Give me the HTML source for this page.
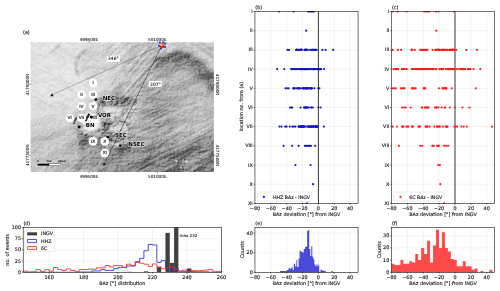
<!DOCTYPE html>
<html><head><meta charset="utf-8"><title>BAz figure</title>
<style>
html,body{margin:0;padding:0;background:#fff;}
body{width:500px;height:291px;overflow:hidden;}
svg{display:block;}
text{font-family:"DejaVu Sans","Liberation Sans",sans-serif;font-size:4.86px;fill:#1a1a1a;stroke:#1a1a1a;stroke-width:0.14px;text-rendering:geometricPrecision;}
.b{font-weight:bold;font-size:5.5px;fill:#000;paint-order:stroke;stroke:#fff;stroke-width:0.9px;stroke-opacity:.75;stroke-linejoin:round;}
.r{font-size:4.3px;fill:#3c3c3c;stroke:#3c3c3c;stroke-width:0.24px;}
.m{font-size:4.17px;stroke-width:0.1px;}
.g{stroke:#dcdcdc;stroke-width:0.35;}
.sp{fill:none;stroke:#000;stroke-width:0.56;}
.tk{stroke:#000;stroke-width:0.5;}
</style></head><body>
<svg width="500" height="291" viewBox="0 0 500 291">
<rect width="500" height="291" fill="#fff"/>

<defs>
<clipPath id="mc"><rect x="30.6" y="42.2" width="183.3" height="129.7"/></clipPath>
<filter id="b8" x="-30%" y="-30%" width="160%" height="160%"><feGaussianBlur stdDeviation="8"/></filter>
<filter id="b5" x="-30%" y="-30%" width="160%" height="160%"><feGaussianBlur stdDeviation="5"/></filter>
<filter id="b3" x="-30%" y="-30%" width="160%" height="160%"><feGaussianBlur stdDeviation="3"/></filter>
<filter id="b2" x="-30%" y="-30%" width="160%" height="160%"><feGaussianBlur stdDeviation="1.8"/></filter>
<filter id="b1" x="-30%" y="-30%" width="160%" height="160%"><feGaussianBlur stdDeviation="0.8"/></filter>
<filter id="b05" x="-30%" y="-30%" width="160%" height="160%"><feGaussianBlur stdDeviation="0.45"/></filter>
<filter id="tex" x="0" y="0" width="100%" height="100%" color-interpolation-filters="sRGB">
 <feTurbulence type="fractalNoise" baseFrequency="0.55 0.7" numOctaves="3" seed="7" result="n"/>
 <feDiffuseLighting in="n" surfaceScale="2.2" diffuseConstant="0.72" lighting-color="#fff" result="l"><feDistantLight azimuth="225" elevation="45"/></feDiffuseLighting>
</filter>
<filter id="streak" x="0" y="0" width="100%" height="100%" color-interpolation-filters="sRGB">
 <feTurbulence type="fractalNoise" baseFrequency="0.025 0.45" numOctaves="3" seed="11"/>
 <feColorMatrix type="matrix" values="1.9 0 0 0 -0.45  1.9 0 0 0 -0.45  1.9 0 0 0 -0.45  0 0 0 0 1"/>
</filter>
<mask id="mN"><g filter="url(#b5)"><polygon points="104,36 172,36 160,66 146,96 112,98 100,80 108,60" fill="#fff"/></g></mask>
<mask id="mE"><g filter="url(#b5)"><polygon points="128,104 170,96 222,110 222,178 140,178 132,150" fill="#fff"/></g></mask>
<mask id="mS"><g filter="url(#b5)"><polygon points="24,120 66,124 82,150 104,178 24,178" fill="#fff"/></g></mask>
<mask id="mW"><g filter="url(#b5)"><polygon points="24,36 96,36 100,70 86,96 64,112 24,112" fill="#fff"/></g></mask>
<filter id="tex3" x="0" y="0" width="100%" height="100%" color-interpolation-filters="sRGB">
 <feTurbulence type="turbulence" baseFrequency="0.16 0.28" numOctaves="3" seed="21" result="n"/>
 <feDiffuseLighting in="n" surfaceScale="7" diffuseConstant="0.72" lighting-color="#fff" result="l"><feDistantLight azimuth="225" elevation="45"/></feDiffuseLighting>
</filter>
<mask id="mC"><g filter="url(#b3)"><polygon points="84,108 96,98 136,96 140,112 132,132 136,146 124,152 104,146 80,138 74,124" fill="#fff"/></g></mask>
<filter id="tex2" x="0" y="0" width="100%" height="100%" color-interpolation-filters="sRGB">
 <feTurbulence type="fractalNoise" baseFrequency="0.05 0.09" numOctaves="3" seed="3" result="n"/>
 <feDiffuseLighting in="n" surfaceScale="22" diffuseConstant="0.72" lighting-color="#fff" result="l"><feDistantLight azimuth="225" elevation="45"/></feDiffuseLighting>
</filter>
</defs>
<g clip-path="url(#mc)">
<rect x="30" y="42" width="185" height="131" fill="#b6b6b6"/>
<!-- broad tonal regions -->
<g filter="url(#b8)">
 <polygon points="112,30 168,30 160,60 140,95 108,95" fill="#c6c6c6"/>
 <polygon points="20,30 122,30 122,58 108,92 78,118 56,134 20,150" fill="#e6e6e6"/>
 <polygon points="20,140 70,128 100,150 110,185 20,185" fill="#c2c2c2"/>
 <polygon points="85,140 150,146 160,185 90,185" fill="#9c9c9c"/>
 <polygon points="150,100 225,95 225,185 160,185" fill="#b3b3b3"/>
</g>
<g filter="url(#b5)">
 <polygon points="30,100 70,100 70,128 30,138" fill="#dedede"/>
 <polygon points="26,128 60,124 66,150 40,176 26,176" fill="#cacaca"/>
 <polygon points="186,30 225,30 225,74 200,56 188,48" fill="#c9c9c9"/>
 <polygon points="168,62 186,58 206,78 225,100 225,125 160,110" fill="#bababa"/>
 <polygon points="120,100 140,100 138,128 118,126" fill="#cfcfcf"/>
 <polygon points="140,150 222,138 222,182 140,182" fill="#868686"/>
 <polygon points="184,96 222,92 222,134 176,132" fill="#c2c2c2"/>
 <polygon points="146,92 166,90 170,132 148,134" fill="#a6a6a6"/>
</g>
<!-- dark ridge shadow band -->
<g filter="url(#b3)">
 <path d="M154,68 Q166,60 178,59.5 Q190,60 199,70 Q207,79 220,90" fill="none" stroke="#8d8d8d" stroke-width="13"/>
</g>
<g filter="url(#b2)">
 <path d="M156,63.5 Q168,56 180,55.5 Q191,57 200,66.5 Q207,74 220,84" fill="none" stroke="#7c7c7c" stroke-width="7"/>
 <path d="M200,68 Q208,78 220,92" fill="none" stroke="#808080" stroke-width="7"/>
</g>
<g filter="url(#b2)"><path d="M158,38 L222,38 L222,76 Q206,62 196,54 Q188,48.5 181,48.5 Q171,49 160,56Z" fill="#d2d2d2"/></g>
<g filter="url(#b1)" fill="none" stroke="#a6a6a6" stroke-width="1.4">
 <path d="M190,42 Q202,48 214,58"/>
 <path d="M199,42 Q207,46 214,51"/>
 <path d="M186,46 Q198,54 212,68" stroke="#b4b4b4"/>
</g>
<g filter="url(#b2)">
 <path d="M78,131 Q87,144 81,162 Q78,170 73,176" fill="none" stroke="#9c9c9c" stroke-width="5"/>
</g>
<!-- crater zone -->
<g filter="url(#b2)">
 <ellipse cx="91" cy="122" rx="9.5" ry="10" fill="#f6f6f6"/>
 <path d="M108,98.5 Q122,96.5 136,99.5 Q134,106.5 110,106Z" fill="#8a8a8a"/>
 <path d="M104,110 Q116,118 128,133" fill="none" stroke="#dadada" stroke-width="6"/>
 <path d="M100,107 Q112,105 126,108 Q124,114 102,114Z" fill="#d0d0d0"/>
 <path d="M114,112 Q124,110 133,116 Q130,126 116,125Z" fill="#c8c8c8"/>
 <path d="M78,132 Q84,131 90,134 Q90,148 80,148Z" fill="#8c8c8c"/>
 <path d="M110,147 Q122,146 133,149 Q132,157 112,156Z" fill="#8a8a8a"/>
</g>
<g filter="url(#b1)">
 <path d="M99.5,100 Q103,99.3 106,100.8 Q106,104 102.5,104.8 Q99.5,104 99.5,100Z" fill="#6a6a6a"/>
 <path d="M104,109 Q112,106 122,110 Q114,113 105,112Z" fill="#ededed"/>
 <path d="M102,123 Q107,122 112,124.5 Q112,129.5 106,130.5 Q102,129 102,123Z" fill="#757575"/>
 
 <path d="M80,130.5 Q87,134.5 95,134.5 Q100,134 103,131.5 Q97,133 92,132.5 Q85,131.5 81,129Z" fill="#e8e8e8"/>
 <path d="M106,138.5 Q112,138 118.5,141 Q113,143.5 107,142Z" fill="#6c6c6c"/>
 <path d="M110,142.5 Q117,142.8 123.5,144.5 Q117,145.6 110.5,144.6Z" fill="#f3f3f3"/>
 <path d="M108,127 Q118,126 127,131 Q120,133.5 110,131.5Z" fill="#e2e2e2"/>
 <path d="M116,114 Q124,116 131,121" fill="none" stroke="#f0f0f0" stroke-width="1.2"/>
 <path d="M114,118 Q122,120 129,125" fill="none" stroke="#7a7a7a" stroke-width="1.1"/>
 <path d="M122,96 Q130,99 138,104" fill="none" stroke="#8a8a8a" stroke-width="1.3"/>
</g>
<g filter="url(#b05)">
 <path d="M88.4,113.6 Q86.2,117 84.6,121.4 L86.8,121.2 Q88,117.5 90.2,114.4Z" fill="#4c4c4c"/>
 <path d="M76.2,116.8 Q74.2,120 72.6,124.2 L74.8,124 Q76,120.6 78,117.6Z" fill="#555"/>
</g>
<g filter="url(#b05)">
 <circle cx="176.5" cy="161" r="1.3" fill="#d4d4d4"/><circle cx="178.3" cy="162.6" r="1.0" fill="#555"/>
 <circle cx="186.5" cy="161.5" r="1.3" fill="#d8d8d8"/><circle cx="185" cy="159.6" r="1.1" fill="#4a4a4a"/>
 <circle cx="181" cy="167.5" r="1.1" fill="#ccc"/><circle cx="183" cy="169" r="1.0" fill="#505050"/>
 <circle cx="173.5" cy="158" r="0.9" fill="#5a5a5a"/>
</g>
<!-- gullies upper-left -->
<g filter="url(#b3)"><polygon points="88,40 120,40 116,74 98,84 82,76 78,62" fill="#d8d8d8"/></g>
<g filter="url(#b1)" fill="none" stroke="#a6a6a6" stroke-width="1.5">
 <path d="M60,44 Q56,49 51,53"/>
 <path d="M86,50 Q78,56 76,63 Q75,70 79,76"/>
 <path d="M66,86 Q72,92 78,95" stroke="#cfcfcf"/>
</g>
<g mask="url(#mN)" style="mix-blend-mode:overlay" opacity="0.4"><rect x="-200" y="-250" width="700" height="700" transform="rotate(-48 130 70)" filter="url(#streak)"/></g>
<g mask="url(#mE)" style="mix-blend-mode:overlay" opacity="0.28"><rect x="-200" y="-250" width="700" height="700" transform="rotate(-27 170 130)" filter="url(#streak)"/></g>
<g mask="url(#mS)" style="mix-blend-mode:overlay" opacity="0.16"><rect x="-200" y="-250" width="700" height="700" transform="rotate(-40 60 150)" filter="url(#streak)"/></g>
<g mask="url(#mW)" style="mix-blend-mode:overlay" opacity="0.22"><rect x="-200" y="-250" width="700" height="700" transform="rotate(30 60 80)" filter="url(#streak)"/></g>
<g mask="url(#mC)" style="mix-blend-mode:overlay" opacity="0.5"><rect x="60" y="85" width="95" height="80" filter="url(#tex3)"/></g>
<rect x="30" y="42" width="185" height="131" filter="url(#tex2)" style="mix-blend-mode:overlay" opacity="0.26"/>
<rect x="30" y="42" width="185" height="131" filter="url(#tex)" style="mix-blend-mode:overlay" opacity="0.38"/>
</g>

<line x1="161.8" y1="45.4" x2="53" y2="94.4" stroke="#333" stroke-width="0.32"/>
<line x1="161.8" y1="45.4" x2="104.8" y2="163" stroke="#111" stroke-width="0.8" stroke-dasharray="0.9 0.55"/>
<polygon points="52.2,93.2 50,96.3 53.7,96.3" fill="#111"/>
<polygon points="103.4,162.6 103.4,166 106.3,164.3" fill="#111"/>
<rect x="106.8" y="55.8" width="13" height="6" fill="#fff"/>
<text class="m" x="113.4" y="60.4" text-anchor="middle" style="font-size:4.5px">246°</text>
<rect x="148.8" y="80.9" width="13" height="6" fill="#fff"/>
<text class="m" x="155.5" y="85.5" text-anchor="middle" style="font-size:4.5px">207°</text>
<rect x="158.95" y="41.65" width="1.9" height="1.9" fill="#1f3fc8"/>
<rect x="164.25" y="42.75" width="1.9" height="1.9" fill="#1f3fc8"/>
<rect x="158.05" y="44.75" width="1.9" height="1.9" fill="#1f3fc8"/>
<rect x="164.05" y="45.95" width="1.9" height="1.9" fill="#1f3fc8"/>
<rect x="160.15" y="47.45" width="1.9" height="1.9" fill="#1f3fc8"/>
<rect x="162.45" y="41.45" width="1.9" height="1.9" fill="#1f3fc8"/>
<polygon points="162.3,41.6 159.5,47.7 165.0,47.7" fill="#f01418"/>
<circle cx="161.7" cy="45.0" r="1.15" fill="#ecd818"/>
<circle cx="93.1" cy="82.9" r="4.3" fill="#fff"/>
<text class="r" x="93.1" y="84.2" text-anchor="middle">I</text>
<circle cx="81.4" cy="94.6" r="4.3" fill="#fff"/>
<text class="r" x="81.4" y="95.9" text-anchor="middle">II</text>
<circle cx="93.1" cy="94.6" r="4.3" fill="#fff"/>
<text class="r" x="93.1" y="95.9" text-anchor="middle">III</text>
<circle cx="81.4" cy="106.3" r="4.3" fill="#fff"/>
<text class="r" x="81.4" y="107.6" text-anchor="middle">IV</text>
<circle cx="93.1" cy="106.3" r="4.3" fill="#fff"/>
<text class="r" x="93.1" y="107.6" text-anchor="middle">V</text>
<circle cx="69.7" cy="118.0" r="4.3" fill="#fff"/>
<text class="r" x="69.7" y="119.2" text-anchor="middle">VI</text>
<circle cx="81.4" cy="118.0" r="4.3" fill="#fff"/>
<text class="r" x="81.4" y="119.2" text-anchor="middle">VII</text>
<circle cx="93.7" cy="118.0" r="4.3" fill="#fff"/>
<text class="r" x="93.7" y="119.2" text-anchor="middle">VIII</text>
<circle cx="93.1" cy="141.4" r="4.3" fill="#fff"/>
<text class="r" x="93.1" y="142.7" text-anchor="middle">IX</text>
<circle cx="104.8" cy="141.4" r="4.3" fill="#fff"/>
<text class="r" x="104.8" y="142.7" text-anchor="middle">X</text>
<circle cx="104.8" cy="153.1" r="4.3" fill="#fff"/>
<text class="r" x="104.8" y="154.3" text-anchor="middle">XI</text>
<line x1="95.8" y1="99.7" x2="103.7" y2="97.9" stroke="#222" stroke-width="0.35"/>
<circle cx="95.8" cy="99.7" r="1.35" fill="#000"/>
<text class="b" x="102.7" y="99.9">NEC</text>
<line x1="91.2" y1="117.0" x2="98.9" y2="114.5" stroke="#222" stroke-width="0.35"/>
<circle cx="91.2" cy="117.0" r="1.35" fill="#000"/>
<text class="b" x="97.9" y="116.5">VOR</text>
<line x1="79.2" y1="127.1" x2="86.8" y2="124.7" stroke="#222" stroke-width="0.35"/>
<circle cx="79.2" cy="127.1" r="1.35" fill="#000"/>
<text class="b" x="85.8" y="126.7">BN</text>
<line x1="107.8" y1="137" x2="116" y2="135" stroke="#222" stroke-width="0.35"/>
<circle cx="107.8" cy="137" r="1.35" fill="#000"/>
<text class="b" x="115" y="137">SEC</text>
<line x1="120.3" y1="145.6" x2="129.3" y2="143.7" stroke="#222" stroke-width="0.35"/>
<circle cx="120.3" cy="145.6" r="1.35" fill="#000"/>
<text class="b" x="128.3" y="145.7">NSEC</text>
<rect x="37.6" y="163.7" width="11.4" height="1.9" fill="#000"/>
<rect x="49" y="163.7" width="11.4" height="1.9" fill="#fff" stroke="#000" stroke-width="0.3"/>
<text x="37.8" y="161.8" text-anchor="middle" style="font-size:2.4px">0</text>
<text x="49" y="161.8" text-anchor="middle" style="font-size:2.4px">250</text>
<text x="62" y="161.8" text-anchor="middle" style="font-size:2.4px">500 m</text>
<text x="23" y="33.7">(a)</text>
<text class="m" x="88.9" y="41.0" text-anchor="middle">499500E</text>
<text class="m" x="88.9" y="177.8" text-anchor="middle">499500E</text>
<line class="tk" x1="89.2" y1="42.2" x2="89.2" y2="41" />
<line class="tk" x1="89.2" y1="171.9" x2="89.2" y2="173.1" />
<text class="m" x="157.29999999999998" y="41.0" text-anchor="middle">501000E</text>
<text class="m" x="157.29999999999998" y="177.8" text-anchor="middle">501000E</text>
<line class="tk" x1="157.6" y1="42.2" x2="157.6" y2="41" />
<line class="tk" x1="157.6" y1="171.9" x2="157.6" y2="173.1" />
<text class="m" transform="translate(28.5,84.6) rotate(-90)" text-anchor="middle">4179000N</text>
<text class="m" transform="translate(216.2,84.6) rotate(90)" text-anchor="middle">4179000N</text>
<line class="tk" x1="30.6" y1="84.6" x2="29.4" y2="84.6" />
<line class="tk" x1="213.9" y1="84.6" x2="215.1" y2="84.6" />
<text class="m" transform="translate(28.5,155.3) rotate(-90)" text-anchor="middle">4177500N</text>
<text class="m" transform="translate(216.2,155.3) rotate(90)" text-anchor="middle">4177500N</text>
<line class="tk" x1="30.6" y1="155.3" x2="29.4" y2="155.3" />
<line class="tk" x1="213.9" y1="155.3" x2="215.1" y2="155.3" />
<rect x="254.95" y="11.5" width="103.1" height="191.9" fill="#fff"/>
<line class="g" x1="270.8" y1="11.5" x2="270.8" y2="203.4"/>
<line class="g" x1="286.7" y1="11.5" x2="286.7" y2="203.4"/>
<line class="g" x1="302.5" y1="11.5" x2="302.5" y2="203.4"/>
<line class="g" x1="334.3" y1="11.5" x2="334.3" y2="203.4"/>
<line class="g" x1="350.1" y1="11.5" x2="350.1" y2="203.4"/>
<line class="g" x1="254.95" y1="30.7" x2="358.05" y2="30.7"/>
<line class="g" x1="254.95" y1="49.9" x2="358.05" y2="49.9"/>
<line class="g" x1="254.95" y1="69.1" x2="358.05" y2="69.1"/>
<line class="g" x1="254.95" y1="88.3" x2="358.05" y2="88.3"/>
<line class="g" x1="254.95" y1="107.5" x2="358.05" y2="107.5"/>
<line class="g" x1="254.95" y1="126.6" x2="358.05" y2="126.6"/>
<line class="g" x1="254.95" y1="145.8" x2="358.05" y2="145.8"/>
<line class="g" x1="254.95" y1="165.0" x2="358.05" y2="165.0"/>
<line class="g" x1="254.95" y1="184.2" x2="358.05" y2="184.2"/>
<line x1="318.4" y1="11.5" x2="318.4" y2="203.4" stroke="#2a2a2a" stroke-width="0.95"/>
<clipPath id="cpb"><rect x="253.95" y="11.3" width="105.1" height="192.3"/></clipPath>
<g clip-path="url(#cpb)" fill="#1414c8">
<circle cx="279.1" cy="11.5" r="1.08"/>
<circle cx="293.8" cy="11.5" r="1.08"/>
<circle cx="308.1" cy="11.5" r="1.08"/>
<circle cx="309.3" cy="11.5" r="1.08"/>
<circle cx="310.5" cy="11.5" r="1.08"/>
<circle cx="311.7" cy="11.5" r="1.08"/>
<circle cx="312.8" cy="11.5" r="1.08"/>
<circle cx="314.0" cy="11.5" r="1.08"/>
<circle cx="306.2" cy="30.7" r="1.08"/>
<circle cx="287.5" cy="49.9" r="1.08"/>
<circle cx="289.1" cy="49.9" r="1.08"/>
<circle cx="296.2" cy="49.9" r="1.08"/>
<circle cx="296.7" cy="49.9" r="1.08"/>
<circle cx="296.8" cy="49.9" r="1.08"/>
<circle cx="296.8" cy="49.9" r="1.08"/>
<circle cx="296.8" cy="49.9" r="1.08"/>
<circle cx="298.2" cy="49.9" r="1.08"/>
<circle cx="299.1" cy="49.9" r="1.08"/>
<circle cx="300.8" cy="49.9" r="1.08"/>
<circle cx="300.9" cy="49.9" r="1.08"/>
<circle cx="300.9" cy="49.9" r="1.08"/>
<circle cx="301.1" cy="49.9" r="1.08"/>
<circle cx="301.1" cy="49.9" r="1.08"/>
<circle cx="301.2" cy="49.9" r="1.08"/>
<circle cx="301.7" cy="49.9" r="1.08"/>
<circle cx="304.4" cy="49.9" r="1.08"/>
<circle cx="305.2" cy="49.9" r="1.08"/>
<circle cx="305.5" cy="49.9" r="1.08"/>
<circle cx="305.6" cy="49.9" r="1.08"/>
<circle cx="305.7" cy="49.9" r="1.08"/>
<circle cx="305.8" cy="49.9" r="1.08"/>
<circle cx="306.0" cy="49.9" r="1.08"/>
<circle cx="306.8" cy="49.9" r="1.08"/>
<circle cx="306.8" cy="49.9" r="1.08"/>
<circle cx="307.8" cy="49.9" r="1.08"/>
<circle cx="310.1" cy="49.9" r="1.08"/>
<circle cx="311.6" cy="49.9" r="1.08"/>
<circle cx="312.5" cy="49.9" r="1.08"/>
<circle cx="312.5" cy="49.9" r="1.08"/>
<circle cx="313.1" cy="49.9" r="1.08"/>
<circle cx="314.1" cy="49.9" r="1.08"/>
<circle cx="314.3" cy="49.9" r="1.08"/>
<circle cx="315.5" cy="49.9" r="1.08"/>
<circle cx="316.3" cy="49.9" r="1.08"/>
<circle cx="316.4" cy="49.9" r="1.08"/>
<circle cx="322.4" cy="49.9" r="1.08"/>
<circle cx="325.5" cy="49.9" r="1.08"/>
<circle cx="333.2" cy="49.9" r="1.08"/>
<circle cx="277.2" cy="69.1" r="1.08"/>
<circle cx="284.3" cy="69.1" r="1.08"/>
<circle cx="291.4" cy="69.1" r="1.08"/>
<circle cx="291.5" cy="69.1" r="1.08"/>
<circle cx="291.7" cy="69.1" r="1.08"/>
<circle cx="292.4" cy="69.1" r="1.08"/>
<circle cx="293.2" cy="69.1" r="1.08"/>
<circle cx="294.8" cy="69.1" r="1.08"/>
<circle cx="295.5" cy="69.1" r="1.08"/>
<circle cx="295.6" cy="69.1" r="1.08"/>
<circle cx="296.2" cy="69.1" r="1.08"/>
<circle cx="297.9" cy="69.1" r="1.08"/>
<circle cx="298.8" cy="69.1" r="1.08"/>
<circle cx="300.1" cy="69.1" r="1.08"/>
<circle cx="300.4" cy="69.1" r="1.08"/>
<circle cx="300.6" cy="69.1" r="1.08"/>
<circle cx="301.4" cy="69.1" r="1.08"/>
<circle cx="301.4" cy="69.1" r="1.08"/>
<circle cx="302.2" cy="69.1" r="1.08"/>
<circle cx="302.7" cy="69.1" r="1.08"/>
<circle cx="303.8" cy="69.1" r="1.08"/>
<circle cx="304.2" cy="69.1" r="1.08"/>
<circle cx="304.7" cy="69.1" r="1.08"/>
<circle cx="304.8" cy="69.1" r="1.08"/>
<circle cx="305.6" cy="69.1" r="1.08"/>
<circle cx="305.9" cy="69.1" r="1.08"/>
<circle cx="306.2" cy="69.1" r="1.08"/>
<circle cx="306.7" cy="69.1" r="1.08"/>
<circle cx="306.8" cy="69.1" r="1.08"/>
<circle cx="307.3" cy="69.1" r="1.08"/>
<circle cx="307.8" cy="69.1" r="1.08"/>
<circle cx="308.4" cy="69.1" r="1.08"/>
<circle cx="309.1" cy="69.1" r="1.08"/>
<circle cx="309.2" cy="69.1" r="1.08"/>
<circle cx="311.1" cy="69.1" r="1.08"/>
<circle cx="311.2" cy="69.1" r="1.08"/>
<circle cx="312.5" cy="69.1" r="1.08"/>
<circle cx="312.7" cy="69.1" r="1.08"/>
<circle cx="313.1" cy="69.1" r="1.08"/>
<circle cx="313.1" cy="69.1" r="1.08"/>
<circle cx="313.7" cy="69.1" r="1.08"/>
<circle cx="313.9" cy="69.1" r="1.08"/>
<circle cx="314.8" cy="69.1" r="1.08"/>
<circle cx="315.0" cy="69.1" r="1.08"/>
<circle cx="316.0" cy="69.1" r="1.08"/>
<circle cx="316.2" cy="69.1" r="1.08"/>
<circle cx="317.6" cy="69.1" r="1.08"/>
<circle cx="317.9" cy="69.1" r="1.08"/>
<circle cx="317.9" cy="69.1" r="1.08"/>
<circle cx="318.3" cy="69.1" r="1.08"/>
<circle cx="318.9" cy="69.1" r="1.08"/>
<circle cx="319.6" cy="69.1" r="1.08"/>
<circle cx="319.6" cy="69.1" r="1.08"/>
<circle cx="319.8" cy="69.1" r="1.08"/>
<circle cx="320.0" cy="69.1" r="1.08"/>
<circle cx="320.6" cy="69.1" r="1.08"/>
<circle cx="321.0" cy="69.1" r="1.08"/>
<circle cx="321.1" cy="69.1" r="1.08"/>
<circle cx="324.0" cy="69.1" r="1.08"/>
<circle cx="285.5" cy="88.3" r="1.08"/>
<circle cx="287.1" cy="88.3" r="1.08"/>
<circle cx="288.6" cy="88.3" r="1.08"/>
<circle cx="293.3" cy="88.3" r="1.08"/>
<circle cx="293.7" cy="88.3" r="1.08"/>
<circle cx="294.4" cy="88.3" r="1.08"/>
<circle cx="294.4" cy="88.3" r="1.08"/>
<circle cx="296.2" cy="88.3" r="1.08"/>
<circle cx="298.0" cy="88.3" r="1.08"/>
<circle cx="298.1" cy="88.3" r="1.08"/>
<circle cx="298.6" cy="88.3" r="1.08"/>
<circle cx="299.5" cy="88.3" r="1.08"/>
<circle cx="300.9" cy="88.3" r="1.08"/>
<circle cx="303.1" cy="88.3" r="1.08"/>
<circle cx="303.1" cy="88.3" r="1.08"/>
<circle cx="303.2" cy="88.3" r="1.08"/>
<circle cx="304.2" cy="88.3" r="1.08"/>
<circle cx="304.7" cy="88.3" r="1.08"/>
<circle cx="305.7" cy="88.3" r="1.08"/>
<circle cx="306.0" cy="88.3" r="1.08"/>
<circle cx="306.4" cy="88.3" r="1.08"/>
<circle cx="306.6" cy="88.3" r="1.08"/>
<circle cx="306.7" cy="88.3" r="1.08"/>
<circle cx="307.4" cy="88.3" r="1.08"/>
<circle cx="308.4" cy="88.3" r="1.08"/>
<circle cx="308.9" cy="88.3" r="1.08"/>
<circle cx="309.3" cy="88.3" r="1.08"/>
<circle cx="310.9" cy="88.3" r="1.08"/>
<circle cx="311.0" cy="88.3" r="1.08"/>
<circle cx="311.6" cy="88.3" r="1.08"/>
<circle cx="311.6" cy="88.3" r="1.08"/>
<circle cx="311.8" cy="88.3" r="1.08"/>
<circle cx="314.3" cy="88.3" r="1.08"/>
<circle cx="318.4" cy="88.3" r="1.08"/>
<circle cx="319.4" cy="88.3" r="1.08"/>
<circle cx="290.1" cy="107.5" r="1.08"/>
<circle cx="291.4" cy="107.5" r="1.08"/>
<circle cx="292.2" cy="107.5" r="1.08"/>
<circle cx="300.6" cy="107.5" r="1.08"/>
<circle cx="304.0" cy="107.5" r="1.08"/>
<circle cx="304.4" cy="107.5" r="1.08"/>
<circle cx="304.9" cy="107.5" r="1.08"/>
<circle cx="305.6" cy="107.5" r="1.08"/>
<circle cx="305.8" cy="107.5" r="1.08"/>
<circle cx="306.2" cy="107.5" r="1.08"/>
<circle cx="307.4" cy="107.5" r="1.08"/>
<circle cx="307.5" cy="107.5" r="1.08"/>
<circle cx="308.9" cy="107.5" r="1.08"/>
<circle cx="311.2" cy="107.5" r="1.08"/>
<circle cx="311.6" cy="107.5" r="1.08"/>
<circle cx="312.8" cy="107.5" r="1.08"/>
<circle cx="318.4" cy="107.5" r="1.08"/>
<circle cx="320.6" cy="107.5" r="1.08"/>
<circle cx="279.5" cy="126.6" r="1.08"/>
<circle cx="281.5" cy="126.6" r="1.08"/>
<circle cx="285.1" cy="126.6" r="1.08"/>
<circle cx="286.7" cy="126.6" r="1.08"/>
<circle cx="289.8" cy="126.6" r="1.08"/>
<circle cx="292.2" cy="126.6" r="1.08"/>
<circle cx="293.8" cy="126.6" r="1.08"/>
<circle cx="295.4" cy="126.6" r="1.08"/>
<circle cx="298.6" cy="126.6" r="1.08"/>
<circle cx="298.8" cy="126.6" r="1.08"/>
<circle cx="299.1" cy="126.6" r="1.08"/>
<circle cx="299.8" cy="126.6" r="1.08"/>
<circle cx="300.7" cy="126.6" r="1.08"/>
<circle cx="301.0" cy="126.6" r="1.08"/>
<circle cx="301.2" cy="126.6" r="1.08"/>
<circle cx="301.3" cy="126.6" r="1.08"/>
<circle cx="301.6" cy="126.6" r="1.08"/>
<circle cx="301.7" cy="126.6" r="1.08"/>
<circle cx="302.5" cy="126.6" r="1.08"/>
<circle cx="302.6" cy="126.6" r="1.08"/>
<circle cx="302.7" cy="126.6" r="1.08"/>
<circle cx="302.7" cy="126.6" r="1.08"/>
<circle cx="303.3" cy="126.6" r="1.08"/>
<circle cx="303.9" cy="126.6" r="1.08"/>
<circle cx="304.1" cy="126.6" r="1.08"/>
<circle cx="304.3" cy="126.6" r="1.08"/>
<circle cx="305.4" cy="126.6" r="1.08"/>
<circle cx="307.4" cy="126.6" r="1.08"/>
<circle cx="307.5" cy="126.6" r="1.08"/>
<circle cx="308.8" cy="126.6" r="1.08"/>
<circle cx="308.9" cy="126.6" r="1.08"/>
<circle cx="309.5" cy="126.6" r="1.08"/>
<circle cx="310.3" cy="126.6" r="1.08"/>
<circle cx="310.4" cy="126.6" r="1.08"/>
<circle cx="310.9" cy="126.6" r="1.08"/>
<circle cx="311.5" cy="126.6" r="1.08"/>
<circle cx="311.7" cy="126.6" r="1.08"/>
<circle cx="312.7" cy="126.6" r="1.08"/>
<circle cx="312.7" cy="126.6" r="1.08"/>
<circle cx="313.1" cy="126.6" r="1.08"/>
<circle cx="313.7" cy="126.6" r="1.08"/>
<circle cx="313.7" cy="126.6" r="1.08"/>
<circle cx="315.2" cy="126.6" r="1.08"/>
<circle cx="315.2" cy="126.6" r="1.08"/>
<circle cx="315.6" cy="126.6" r="1.08"/>
<circle cx="315.7" cy="126.6" r="1.08"/>
<circle cx="316.0" cy="126.6" r="1.08"/>
<circle cx="316.1" cy="126.6" r="1.08"/>
<circle cx="316.5" cy="126.6" r="1.08"/>
<circle cx="316.5" cy="126.6" r="1.08"/>
<circle cx="316.5" cy="126.6" r="1.08"/>
<circle cx="316.9" cy="126.6" r="1.08"/>
<circle cx="317.0" cy="126.6" r="1.08"/>
<circle cx="317.3" cy="126.6" r="1.08"/>
<circle cx="323.8" cy="126.6" r="1.08"/>
<circle cx="283.5" cy="145.8" r="1.08"/>
<circle cx="292.2" cy="145.8" r="1.08"/>
<circle cx="298.6" cy="145.8" r="1.08"/>
<circle cx="304.9" cy="145.8" r="1.08"/>
<circle cx="306.1" cy="145.8" r="1.08"/>
<circle cx="307.3" cy="145.8" r="1.08"/>
<circle cx="308.5" cy="145.8" r="1.08"/>
<circle cx="309.7" cy="145.8" r="1.08"/>
<circle cx="310.9" cy="145.8" r="1.08"/>
<circle cx="315.2" cy="145.8" r="1.08"/>
<circle cx="295.4" cy="165.0" r="1.08"/>
<circle cx="310.5" cy="165.0" r="1.08"/>
<circle cx="313.1" cy="184.2" r="1.08"/>
<circle cx="306.9" cy="203.4" r="1.08"/>
</g>
<rect class="sp" x="254.95" y="11.5" width="103.1" height="191.9"/>
<line class="tk" x1="255.0" y1="203.4" x2="255.0" y2="204.8"/>
<text x="255.0" y="210.3" text-anchor="middle">−80</text>
<line class="tk" x1="270.8" y1="203.4" x2="270.8" y2="204.8"/>
<text x="270.8" y="210.3" text-anchor="middle">−60</text>
<line class="tk" x1="286.7" y1="203.4" x2="286.7" y2="204.8"/>
<text x="286.7" y="210.3" text-anchor="middle">−40</text>
<line class="tk" x1="302.5" y1="203.4" x2="302.5" y2="204.8"/>
<text x="302.5" y="210.3" text-anchor="middle">−20</text>
<line class="tk" x1="318.4" y1="203.4" x2="318.4" y2="204.8"/>
<text x="318.4" y="210.3" text-anchor="middle">0</text>
<line class="tk" x1="334.3" y1="203.4" x2="334.3" y2="204.8"/>
<text x="334.3" y="210.3" text-anchor="middle">20</text>
<line class="tk" x1="350.1" y1="203.4" x2="350.1" y2="204.8"/>
<text x="350.1" y="210.3" text-anchor="middle">40</text>
<line class="tk" x1="254.95" y1="11.5" x2="253.54999999999998" y2="11.5"/>
<text x="252.8" y="13.0" text-anchor="end">I</text>
<line class="tk" x1="254.95" y1="30.7" x2="253.54999999999998" y2="30.7"/>
<text x="252.8" y="32.2" text-anchor="end">II</text>
<line class="tk" x1="254.95" y1="49.9" x2="253.54999999999998" y2="49.9"/>
<text x="252.8" y="51.4" text-anchor="end">III</text>
<line class="tk" x1="254.95" y1="69.1" x2="253.54999999999998" y2="69.1"/>
<text x="252.8" y="70.6" text-anchor="end">IV</text>
<line class="tk" x1="254.95" y1="88.3" x2="253.54999999999998" y2="88.3"/>
<text x="252.8" y="89.8" text-anchor="end">V</text>
<line class="tk" x1="254.95" y1="107.5" x2="253.54999999999998" y2="107.5"/>
<text x="252.8" y="109.0" text-anchor="end">VI</text>
<line class="tk" x1="254.95" y1="126.6" x2="253.54999999999998" y2="126.6"/>
<text x="252.8" y="128.1" text-anchor="end">VII</text>
<line class="tk" x1="254.95" y1="145.8" x2="253.54999999999998" y2="145.8"/>
<text x="252.8" y="147.3" text-anchor="end">VIII</text>
<line class="tk" x1="254.95" y1="165.0" x2="253.54999999999998" y2="165.0"/>
<text x="252.8" y="166.5" text-anchor="end">IX</text>
<line class="tk" x1="254.95" y1="184.2" x2="253.54999999999998" y2="184.2"/>
<text x="252.8" y="185.7" text-anchor="end">X</text>
<line class="tk" x1="254.95" y1="203.4" x2="253.54999999999998" y2="203.4"/>
<text x="252.8" y="204.9" text-anchor="end">XI</text>
<text x="306.5" y="216.2" text-anchor="middle">BAz deviation [°] from INGV</text>
<text x="255.35" y="9">(b)</text>
<rect x="257.6" y="192.1" width="54.3" height="9.0" rx="0.8" fill="#fff" fill-opacity="0.8" stroke="#ccc" stroke-width="0.4"/>
<circle cx="263.9" cy="196.9" r="1.1" fill="#1414c8"/>
<text x="273" y="198.5" style="font-size:4.7px">HHZ BAz - INGV</text>
<text transform="translate(242.9,106.6) rotate(-90)" text-anchor="middle">location no. from (a)</text>
<rect x="391.5" y="11.5" width="103.1" height="191.9" fill="#fff"/>
<line class="g" x1="407.4" y1="11.5" x2="407.4" y2="203.4"/>
<line class="g" x1="423.3" y1="11.5" x2="423.3" y2="203.4"/>
<line class="g" x1="439.1" y1="11.5" x2="439.1" y2="203.4"/>
<line class="g" x1="470.9" y1="11.5" x2="470.9" y2="203.4"/>
<line class="g" x1="486.7" y1="11.5" x2="486.7" y2="203.4"/>
<line class="g" x1="391.5" y1="30.7" x2="494.6" y2="30.7"/>
<line class="g" x1="391.5" y1="49.9" x2="494.6" y2="49.9"/>
<line class="g" x1="391.5" y1="69.1" x2="494.6" y2="69.1"/>
<line class="g" x1="391.5" y1="88.3" x2="494.6" y2="88.3"/>
<line class="g" x1="391.5" y1="107.5" x2="494.6" y2="107.5"/>
<line class="g" x1="391.5" y1="126.6" x2="494.6" y2="126.6"/>
<line class="g" x1="391.5" y1="145.8" x2="494.6" y2="145.8"/>
<line class="g" x1="391.5" y1="165.0" x2="494.6" y2="165.0"/>
<line class="g" x1="391.5" y1="184.2" x2="494.6" y2="184.2"/>
<line x1="455.0" y1="11.5" x2="455.0" y2="203.4" stroke="#2a2a2a" stroke-width="0.95"/>
<clipPath id="cpc"><rect x="390.5" y="11.3" width="105.1" height="192.3"/></clipPath>
<g clip-path="url(#cpc)" fill="#ff1a1a">
<circle cx="392.7" cy="11.5" r="1.08"/>
<circle cx="397.9" cy="11.5" r="1.08"/>
<circle cx="406.6" cy="11.5" r="1.08"/>
<circle cx="424.1" cy="11.5" r="1.08"/>
<circle cx="425.7" cy="11.5" r="1.08"/>
<circle cx="427.6" cy="11.5" r="1.08"/>
<circle cx="429.2" cy="11.5" r="1.08"/>
<circle cx="436.0" cy="11.5" r="1.08"/>
<circle cx="438.6" cy="11.5" r="1.08"/>
<circle cx="453.6" cy="11.5" r="1.08"/>
<circle cx="436.3" cy="30.7" r="1.08"/>
<circle cx="392.7" cy="49.9" r="1.08"/>
<circle cx="397.9" cy="49.9" r="1.08"/>
<circle cx="401.1" cy="49.9" r="1.08"/>
<circle cx="411.6" cy="49.9" r="1.08"/>
<circle cx="411.7" cy="49.9" r="1.08"/>
<circle cx="412.0" cy="49.9" r="1.08"/>
<circle cx="412.3" cy="49.9" r="1.08"/>
<circle cx="414.8" cy="49.9" r="1.08"/>
<circle cx="420.2" cy="49.9" r="1.08"/>
<circle cx="421.4" cy="49.9" r="1.08"/>
<circle cx="422.6" cy="49.9" r="1.08"/>
<circle cx="423.5" cy="49.9" r="1.08"/>
<circle cx="424.4" cy="49.9" r="1.08"/>
<circle cx="426.0" cy="49.9" r="1.08"/>
<circle cx="426.1" cy="49.9" r="1.08"/>
<circle cx="427.4" cy="49.9" r="1.08"/>
<circle cx="432.5" cy="49.9" r="1.08"/>
<circle cx="435.4" cy="49.9" r="1.08"/>
<circle cx="435.9" cy="49.9" r="1.08"/>
<circle cx="435.9" cy="49.9" r="1.08"/>
<circle cx="436.8" cy="49.9" r="1.08"/>
<circle cx="437.6" cy="49.9" r="1.08"/>
<circle cx="437.8" cy="49.9" r="1.08"/>
<circle cx="438.0" cy="49.9" r="1.08"/>
<circle cx="438.6" cy="49.9" r="1.08"/>
<circle cx="438.7" cy="49.9" r="1.08"/>
<circle cx="439.1" cy="49.9" r="1.08"/>
<circle cx="439.6" cy="49.9" r="1.08"/>
<circle cx="441.3" cy="49.9" r="1.08"/>
<circle cx="443.0" cy="49.9" r="1.08"/>
<circle cx="443.0" cy="49.9" r="1.08"/>
<circle cx="443.0" cy="49.9" r="1.08"/>
<circle cx="444.4" cy="49.9" r="1.08"/>
<circle cx="445.6" cy="49.9" r="1.08"/>
<circle cx="446.4" cy="49.9" r="1.08"/>
<circle cx="447.5" cy="49.9" r="1.08"/>
<circle cx="449.4" cy="49.9" r="1.08"/>
<circle cx="449.4" cy="49.9" r="1.08"/>
<circle cx="450.7" cy="49.9" r="1.08"/>
<circle cx="450.9" cy="49.9" r="1.08"/>
<circle cx="451.2" cy="49.9" r="1.08"/>
<circle cx="452.2" cy="49.9" r="1.08"/>
<circle cx="452.5" cy="49.9" r="1.08"/>
<circle cx="452.6" cy="49.9" r="1.08"/>
<circle cx="453.0" cy="49.9" r="1.08"/>
<circle cx="453.3" cy="49.9" r="1.08"/>
<circle cx="453.6" cy="49.9" r="1.08"/>
<circle cx="453.6" cy="49.9" r="1.08"/>
<circle cx="454.1" cy="49.9" r="1.08"/>
<circle cx="456.1" cy="49.9" r="1.08"/>
<circle cx="466.4" cy="49.9" r="1.08"/>
<circle cx="476.9" cy="49.9" r="1.08"/>
<circle cx="393.6" cy="69.1" r="1.08"/>
<circle cx="393.8" cy="69.1" r="1.08"/>
<circle cx="395.5" cy="69.1" r="1.08"/>
<circle cx="396.0" cy="69.1" r="1.08"/>
<circle cx="396.2" cy="69.1" r="1.08"/>
<circle cx="396.7" cy="69.1" r="1.08"/>
<circle cx="397.6" cy="69.1" r="1.08"/>
<circle cx="398.2" cy="69.1" r="1.08"/>
<circle cx="402.2" cy="69.1" r="1.08"/>
<circle cx="402.3" cy="69.1" r="1.08"/>
<circle cx="402.7" cy="69.1" r="1.08"/>
<circle cx="403.0" cy="69.1" r="1.08"/>
<circle cx="403.5" cy="69.1" r="1.08"/>
<circle cx="404.2" cy="69.1" r="1.08"/>
<circle cx="406.2" cy="69.1" r="1.08"/>
<circle cx="406.8" cy="69.1" r="1.08"/>
<circle cx="412.0" cy="69.1" r="1.08"/>
<circle cx="412.3" cy="69.1" r="1.08"/>
<circle cx="412.3" cy="69.1" r="1.08"/>
<circle cx="413.6" cy="69.1" r="1.08"/>
<circle cx="415.0" cy="69.1" r="1.08"/>
<circle cx="415.9" cy="69.1" r="1.08"/>
<circle cx="416.6" cy="69.1" r="1.08"/>
<circle cx="417.6" cy="69.1" r="1.08"/>
<circle cx="418.4" cy="69.1" r="1.08"/>
<circle cx="419.0" cy="69.1" r="1.08"/>
<circle cx="419.3" cy="69.1" r="1.08"/>
<circle cx="421.2" cy="69.1" r="1.08"/>
<circle cx="421.4" cy="69.1" r="1.08"/>
<circle cx="421.5" cy="69.1" r="1.08"/>
<circle cx="421.7" cy="69.1" r="1.08"/>
<circle cx="421.9" cy="69.1" r="1.08"/>
<circle cx="422.9" cy="69.1" r="1.08"/>
<circle cx="423.7" cy="69.1" r="1.08"/>
<circle cx="423.9" cy="69.1" r="1.08"/>
<circle cx="425.0" cy="69.1" r="1.08"/>
<circle cx="425.3" cy="69.1" r="1.08"/>
<circle cx="426.2" cy="69.1" r="1.08"/>
<circle cx="426.8" cy="69.1" r="1.08"/>
<circle cx="427.1" cy="69.1" r="1.08"/>
<circle cx="428.9" cy="69.1" r="1.08"/>
<circle cx="429.0" cy="69.1" r="1.08"/>
<circle cx="429.7" cy="69.1" r="1.08"/>
<circle cx="431.2" cy="69.1" r="1.08"/>
<circle cx="431.8" cy="69.1" r="1.08"/>
<circle cx="432.7" cy="69.1" r="1.08"/>
<circle cx="432.9" cy="69.1" r="1.08"/>
<circle cx="433.2" cy="69.1" r="1.08"/>
<circle cx="433.6" cy="69.1" r="1.08"/>
<circle cx="435.5" cy="69.1" r="1.08"/>
<circle cx="435.9" cy="69.1" r="1.08"/>
<circle cx="436.2" cy="69.1" r="1.08"/>
<circle cx="439.4" cy="69.1" r="1.08"/>
<circle cx="441.0" cy="69.1" r="1.08"/>
<circle cx="441.4" cy="69.1" r="1.08"/>
<circle cx="442.1" cy="69.1" r="1.08"/>
<circle cx="442.6" cy="69.1" r="1.08"/>
<circle cx="443.4" cy="69.1" r="1.08"/>
<circle cx="446.0" cy="69.1" r="1.08"/>
<circle cx="447.2" cy="69.1" r="1.08"/>
<circle cx="447.9" cy="69.1" r="1.08"/>
<circle cx="448.6" cy="69.1" r="1.08"/>
<circle cx="448.6" cy="69.1" r="1.08"/>
<circle cx="448.9" cy="69.1" r="1.08"/>
<circle cx="449.3" cy="69.1" r="1.08"/>
<circle cx="449.6" cy="69.1" r="1.08"/>
<circle cx="449.9" cy="69.1" r="1.08"/>
<circle cx="451.5" cy="69.1" r="1.08"/>
<circle cx="451.7" cy="69.1" r="1.08"/>
<circle cx="452.1" cy="69.1" r="1.08"/>
<circle cx="452.4" cy="69.1" r="1.08"/>
<circle cx="452.5" cy="69.1" r="1.08"/>
<circle cx="453.3" cy="69.1" r="1.08"/>
<circle cx="454.2" cy="69.1" r="1.08"/>
<circle cx="454.6" cy="69.1" r="1.08"/>
<circle cx="454.8" cy="69.1" r="1.08"/>
<circle cx="456.8" cy="69.1" r="1.08"/>
<circle cx="459.1" cy="69.1" r="1.08"/>
<circle cx="461.1" cy="69.1" r="1.08"/>
<circle cx="461.2" cy="69.1" r="1.08"/>
<circle cx="461.9" cy="69.1" r="1.08"/>
<circle cx="462.1" cy="69.1" r="1.08"/>
<circle cx="462.5" cy="69.1" r="1.08"/>
<circle cx="463.0" cy="69.1" r="1.08"/>
<circle cx="463.8" cy="69.1" r="1.08"/>
<circle cx="464.0" cy="69.1" r="1.08"/>
<circle cx="464.5" cy="69.1" r="1.08"/>
<circle cx="465.1" cy="69.1" r="1.08"/>
<circle cx="467.8" cy="69.1" r="1.08"/>
<circle cx="468.2" cy="69.1" r="1.08"/>
<circle cx="469.7" cy="69.1" r="1.08"/>
<circle cx="470.5" cy="69.1" r="1.08"/>
<circle cx="473.5" cy="69.1" r="1.08"/>
<circle cx="480.3" cy="69.1" r="1.08"/>
<circle cx="392.7" cy="88.3" r="1.08"/>
<circle cx="394.3" cy="88.3" r="1.08"/>
<circle cx="395.8" cy="88.3" r="1.08"/>
<circle cx="401.0" cy="88.3" r="1.08"/>
<circle cx="402.2" cy="88.3" r="1.08"/>
<circle cx="403.7" cy="88.3" r="1.08"/>
<circle cx="404.5" cy="88.3" r="1.08"/>
<circle cx="412.1" cy="88.3" r="1.08"/>
<circle cx="412.2" cy="88.3" r="1.08"/>
<circle cx="413.3" cy="88.3" r="1.08"/>
<circle cx="414.4" cy="88.3" r="1.08"/>
<circle cx="415.7" cy="88.3" r="1.08"/>
<circle cx="423.8" cy="88.3" r="1.08"/>
<circle cx="423.8" cy="88.3" r="1.08"/>
<circle cx="424.7" cy="88.3" r="1.08"/>
<circle cx="425.3" cy="88.3" r="1.08"/>
<circle cx="438.9" cy="88.3" r="1.08"/>
<circle cx="442.4" cy="88.3" r="1.08"/>
<circle cx="443.1" cy="88.3" r="1.08"/>
<circle cx="443.7" cy="88.3" r="1.08"/>
<circle cx="444.6" cy="88.3" r="1.08"/>
<circle cx="445.8" cy="88.3" r="1.08"/>
<circle cx="446.2" cy="88.3" r="1.08"/>
<circle cx="446.2" cy="88.3" r="1.08"/>
<circle cx="446.2" cy="88.3" r="1.08"/>
<circle cx="451.7" cy="88.3" r="1.08"/>
<circle cx="475.8" cy="88.3" r="1.08"/>
<circle cx="402.1" cy="107.5" r="1.08"/>
<circle cx="404.2" cy="107.5" r="1.08"/>
<circle cx="405.8" cy="107.5" r="1.08"/>
<circle cx="410.7" cy="107.5" r="1.08"/>
<circle cx="421.8" cy="107.5" r="1.08"/>
<circle cx="422.3" cy="107.5" r="1.08"/>
<circle cx="425.0" cy="107.5" r="1.08"/>
<circle cx="425.3" cy="107.5" r="1.08"/>
<circle cx="426.6" cy="107.5" r="1.08"/>
<circle cx="427.2" cy="107.5" r="1.08"/>
<circle cx="428.2" cy="107.5" r="1.08"/>
<circle cx="428.4" cy="107.5" r="1.08"/>
<circle cx="435.0" cy="107.5" r="1.08"/>
<circle cx="436.0" cy="107.5" r="1.08"/>
<circle cx="436.3" cy="107.5" r="1.08"/>
<circle cx="436.7" cy="107.5" r="1.08"/>
<circle cx="438.4" cy="107.5" r="1.08"/>
<circle cx="441.6" cy="107.5" r="1.08"/>
<circle cx="444.9" cy="107.5" r="1.08"/>
<circle cx="445.3" cy="107.5" r="1.08"/>
<circle cx="449.8" cy="107.5" r="1.08"/>
<circle cx="455.0" cy="107.5" r="1.08"/>
<circle cx="462.4" cy="107.5" r="1.08"/>
<circle cx="469.4" cy="107.5" r="1.08"/>
<circle cx="392.7" cy="126.6" r="1.08"/>
<circle cx="396.9" cy="126.6" r="1.08"/>
<circle cx="402.1" cy="126.6" r="1.08"/>
<circle cx="402.7" cy="126.6" r="1.08"/>
<circle cx="403.4" cy="126.6" r="1.08"/>
<circle cx="406.2" cy="126.6" r="1.08"/>
<circle cx="407.5" cy="126.6" r="1.08"/>
<circle cx="408.3" cy="126.6" r="1.08"/>
<circle cx="412.0" cy="126.6" r="1.08"/>
<circle cx="412.4" cy="126.6" r="1.08"/>
<circle cx="412.7" cy="126.6" r="1.08"/>
<circle cx="418.5" cy="126.6" r="1.08"/>
<circle cx="419.2" cy="126.6" r="1.08"/>
<circle cx="419.6" cy="126.6" r="1.08"/>
<circle cx="419.7" cy="126.6" r="1.08"/>
<circle cx="425.6" cy="126.6" r="1.08"/>
<circle cx="426.1" cy="126.6" r="1.08"/>
<circle cx="426.6" cy="126.6" r="1.08"/>
<circle cx="427.7" cy="126.6" r="1.08"/>
<circle cx="429.6" cy="126.6" r="1.08"/>
<circle cx="434.4" cy="126.6" r="1.08"/>
<circle cx="436.9" cy="126.6" r="1.08"/>
<circle cx="437.5" cy="126.6" r="1.08"/>
<circle cx="438.2" cy="126.6" r="1.08"/>
<circle cx="439.2" cy="126.6" r="1.08"/>
<circle cx="439.9" cy="126.6" r="1.08"/>
<circle cx="443.0" cy="126.6" r="1.08"/>
<circle cx="445.9" cy="126.6" r="1.08"/>
<circle cx="446.3" cy="126.6" r="1.08"/>
<circle cx="447.1" cy="126.6" r="1.08"/>
<circle cx="447.5" cy="126.6" r="1.08"/>
<circle cx="454.3" cy="126.6" r="1.08"/>
<circle cx="455.7" cy="126.6" r="1.08"/>
<circle cx="457.1" cy="126.6" r="1.08"/>
<circle cx="461.3" cy="126.6" r="1.08"/>
<circle cx="463.7" cy="126.6" r="1.08"/>
<circle cx="466.7" cy="126.6" r="1.08"/>
<circle cx="492.0" cy="126.6" r="1.08"/>
<circle cx="398.9" cy="145.8" r="1.08"/>
<circle cx="420.3" cy="145.8" r="1.08"/>
<circle cx="422.3" cy="145.8" r="1.08"/>
<circle cx="432.3" cy="145.8" r="1.08"/>
<circle cx="433.6" cy="145.8" r="1.08"/>
<circle cx="433.6" cy="145.8" r="1.08"/>
<circle cx="437.1" cy="145.8" r="1.08"/>
<circle cx="438.5" cy="145.8" r="1.08"/>
<circle cx="438.6" cy="145.8" r="1.08"/>
<circle cx="438.7" cy="145.8" r="1.08"/>
<circle cx="444.1" cy="145.8" r="1.08"/>
<circle cx="446.3" cy="145.8" r="1.08"/>
<circle cx="448.2" cy="145.8" r="1.08"/>
<circle cx="438.3" cy="165.0" r="1.08"/>
<circle cx="439.9" cy="165.0" r="1.08"/>
<circle cx="440.3" cy="184.2" r="1.08"/>
<circle cx="444.1" cy="203.4" r="1.08"/>
</g>
<rect class="sp" x="391.5" y="11.5" width="103.1" height="191.9"/>
<line class="tk" x1="391.6" y1="203.4" x2="391.6" y2="204.8"/>
<text x="391.6" y="210.3" text-anchor="middle">−80</text>
<line class="tk" x1="407.4" y1="203.4" x2="407.4" y2="204.8"/>
<text x="407.4" y="210.3" text-anchor="middle">−60</text>
<line class="tk" x1="423.3" y1="203.4" x2="423.3" y2="204.8"/>
<text x="423.3" y="210.3" text-anchor="middle">−40</text>
<line class="tk" x1="439.1" y1="203.4" x2="439.1" y2="204.8"/>
<text x="439.1" y="210.3" text-anchor="middle">−20</text>
<line class="tk" x1="455.0" y1="203.4" x2="455.0" y2="204.8"/>
<text x="455.0" y="210.3" text-anchor="middle">0</text>
<line class="tk" x1="470.9" y1="203.4" x2="470.9" y2="204.8"/>
<text x="470.9" y="210.3" text-anchor="middle">20</text>
<line class="tk" x1="486.7" y1="203.4" x2="486.7" y2="204.8"/>
<text x="486.7" y="210.3" text-anchor="middle">40</text>
<line class="tk" x1="391.5" y1="11.5" x2="390.1" y2="11.5"/>
<text x="389.3" y="13.0" text-anchor="end">I</text>
<line class="tk" x1="391.5" y1="30.7" x2="390.1" y2="30.7"/>
<text x="389.3" y="32.2" text-anchor="end">II</text>
<line class="tk" x1="391.5" y1="49.9" x2="390.1" y2="49.9"/>
<text x="389.3" y="51.4" text-anchor="end">III</text>
<line class="tk" x1="391.5" y1="69.1" x2="390.1" y2="69.1"/>
<text x="389.3" y="70.6" text-anchor="end">IV</text>
<line class="tk" x1="391.5" y1="88.3" x2="390.1" y2="88.3"/>
<text x="389.3" y="89.8" text-anchor="end">V</text>
<line class="tk" x1="391.5" y1="107.5" x2="390.1" y2="107.5"/>
<text x="389.3" y="109.0" text-anchor="end">VI</text>
<line class="tk" x1="391.5" y1="126.6" x2="390.1" y2="126.6"/>
<text x="389.3" y="128.1" text-anchor="end">VII</text>
<line class="tk" x1="391.5" y1="145.8" x2="390.1" y2="145.8"/>
<text x="389.3" y="147.3" text-anchor="end">VIII</text>
<line class="tk" x1="391.5" y1="165.0" x2="390.1" y2="165.0"/>
<text x="389.3" y="166.5" text-anchor="end">IX</text>
<line class="tk" x1="391.5" y1="184.2" x2="390.1" y2="184.2"/>
<text x="389.3" y="185.7" text-anchor="end">X</text>
<line class="tk" x1="391.5" y1="203.4" x2="390.1" y2="203.4"/>
<text x="389.3" y="204.9" text-anchor="end">XI</text>
<text x="443.1" y="216.2" text-anchor="middle">BAz deviation [°] from INGV</text>
<text x="391.9" y="9">(c)</text>
<rect x="394.0" y="192.1" width="50.2" height="9.0" rx="0.8" fill="#fff" fill-opacity="0.8" stroke="#ccc" stroke-width="0.4"/>
<circle cx="400.5" cy="196.9" r="1.1" fill="#ff1a1a"/>
<text x="409.2" y="198.5" style="font-size:4.7px">6C BAz - INGV</text>
<line class="g" x1="270.8" y1="227.5" x2="270.8" y2="272.25"/>
<line class="g" x1="286.7" y1="227.5" x2="286.7" y2="272.25"/>
<line class="g" x1="302.5" y1="227.5" x2="302.5" y2="272.25"/>
<line class="g" x1="318.4" y1="227.5" x2="318.4" y2="272.25"/>
<line class="g" x1="334.3" y1="227.5" x2="334.3" y2="272.25"/>
<line class="g" x1="350.1" y1="227.5" x2="350.1" y2="272.25"/>
<line class="g" x1="254.95" y1="252.8" x2="358.05" y2="252.8"/>
<line class="g" x1="254.95" y1="233.2" x2="358.05" y2="233.2"/>
<path d="M280.00,272.2 L280.00,271.05 L286.87,271.05 L286.87,270.02 L288.59,270.02 L288.59,267.96 L289.97,267.96 L289.97,268.81 L291.34,268.81 L291.34,267.61 L292.71,267.61 L292.71,270.02 L293.75,270.02 L293.75,263.66 L295.12,263.66 L295.12,266.24 L296.32,266.24 L296.32,259.88 L297.18,259.88 L297.18,267.10 L298.56,267.10 L298.56,258.51 L299.59,258.51 L299.59,250.77 L300.96,250.77 L300.96,251.63 L302.34,251.63 L302.34,252.49 L303.71,252.49 L303.71,249.05 L305.09,249.05 L305.09,246.99 L306.12,246.99 L306.12,246.48 L307.15,246.48 L307.15,231.01 L308.18,231.01 L308.18,229.81 L309.21,229.81 L309.21,249.05 L310.24,249.05 L310.24,255.93 L311.27,255.93 L311.27,246.48 L312.30,246.48 L312.30,256.79 L313.33,256.79 L313.33,259.36 L314.36,259.36 L314.36,264.52 L315.40,264.52 L315.40,266.24 L316.43,266.24 L316.43,264.52 L317.46,264.52 L317.46,265.89 L318.49,265.89 L318.49,264.18 L319.18,264.18 L319.18,271.74 L320.55,271.74 L320.55,269.67 L321.92,269.67 L321.92,270.53 L323.99,270.53 L323.99,271.05 L325.70,271.05 L325.70,272.2 L331.55,272.2 L331.55,271.05 L332.92,271.05 L332.92,272.2Z" fill="#4a4ada"/>
<rect class="sp" x="254.95" y="227.5" width="103.1" height="44.8"/>
<line class="tk" x1="255.0" y1="272.25" x2="255.0" y2="273.65"/>
<text x="255.0" y="279.1" text-anchor="middle">−80</text>
<line class="tk" x1="270.8" y1="272.25" x2="270.8" y2="273.65"/>
<text x="270.8" y="279.1" text-anchor="middle">−60</text>
<line class="tk" x1="286.7" y1="272.25" x2="286.7" y2="273.65"/>
<text x="286.7" y="279.1" text-anchor="middle">−40</text>
<line class="tk" x1="302.5" y1="272.25" x2="302.5" y2="273.65"/>
<text x="302.5" y="279.1" text-anchor="middle">−20</text>
<line class="tk" x1="318.4" y1="272.25" x2="318.4" y2="273.65"/>
<text x="318.4" y="279.1" text-anchor="middle">0</text>
<line class="tk" x1="334.3" y1="272.25" x2="334.3" y2="273.65"/>
<text x="334.3" y="279.1" text-anchor="middle">20</text>
<line class="tk" x1="350.1" y1="272.25" x2="350.1" y2="273.65"/>
<text x="350.1" y="279.1" text-anchor="middle">40</text>
<line class="tk" x1="254.95" y1="272.2" x2="253.54999999999998" y2="272.2"/>
<text x="252.8" y="273.8" text-anchor="end">0</text>
<line class="tk" x1="254.95" y1="252.8" x2="253.54999999999998" y2="252.8"/>
<text x="252.8" y="254.2" text-anchor="end">20</text>
<line class="tk" x1="254.95" y1="233.2" x2="253.54999999999998" y2="233.2"/>
<text x="252.8" y="234.8" text-anchor="end">40</text>
<text x="306.5" y="285.2" text-anchor="middle">BAz deviation [°] from INGV</text>
<text x="255.35" y="225.1">(e)</text>
<text transform="translate(244.3,249.8) rotate(-90)" text-anchor="middle">Counts</text>
<line class="g" x1="407.4" y1="227.5" x2="407.4" y2="272.25"/>
<line class="g" x1="423.3" y1="227.5" x2="423.3" y2="272.25"/>
<line class="g" x1="439.1" y1="227.5" x2="439.1" y2="272.25"/>
<line class="g" x1="455.0" y1="227.5" x2="455.0" y2="272.25"/>
<line class="g" x1="470.9" y1="227.5" x2="470.9" y2="272.25"/>
<line class="g" x1="486.7" y1="227.5" x2="486.7" y2="272.25"/>
<line class="g" x1="391.5" y1="260.1" x2="494.6" y2="260.1"/>
<line class="g" x1="391.5" y1="247.9" x2="494.6" y2="247.9"/>
<line class="g" x1="391.5" y1="235.8" x2="494.6" y2="235.8"/>
<path d="M391.5,272.25 L391.50,263.75 L394.47,263.75 L394.47,264.96 L397.43,264.96 L397.43,264.96 L400.40,264.96 L400.40,260.10 L403.37,260.10 L403.37,263.75 L406.33,263.75 L406.33,263.75 L409.30,263.75 L409.30,261.31 L412.27,261.31 L412.27,262.53 L415.24,262.53 L415.24,254.03 L418.20,254.03 L418.20,260.10 L421.17,260.10 L421.17,247.95 L424.14,247.95 L424.14,254.03 L427.10,254.03 L427.10,240.66 L430.07,240.66 L430.07,262.53 L433.04,262.53 L433.04,245.52 L436.00,245.52 L436.00,229.72 L438.97,229.72 L438.97,247.95 L441.94,247.95 L441.94,232.16 L444.91,232.16 L444.91,247.95 L447.87,247.95 L447.87,251.59 L450.84,251.59 L450.84,258.88 L453.81,258.88 L453.81,260.10 L456.77,260.10 L456.77,266.18 L459.74,266.18 L459.74,266.18 L462.71,266.18 L462.71,261.31 L465.68,261.31 L465.68,266.18 L468.64,266.18 L468.64,266.18 L471.61,266.18 L471.61,269.82 L474.58,269.82 L474.58,268.61 L477.54,268.61 L477.54,272.25 L480.51,272.25 L480.51,271.04 L483.48,271.04 L483.48,272.25 L486.44,272.25 L486.44,272.25 L489.41,272.25 L489.41,269.82 L492.38,269.82 L492.38,272.25 L494.60,272.25 L495.35,272.25 L494.60,272.25 L494.6,272.25Z" fill="#ff4a4a"/>
<rect class="sp" x="391.5" y="227.5" width="103.1" height="44.8"/>
<line class="tk" x1="391.6" y1="272.25" x2="391.6" y2="273.65"/>
<text x="391.6" y="279.1" text-anchor="middle">−80</text>
<line class="tk" x1="407.4" y1="272.25" x2="407.4" y2="273.65"/>
<text x="407.4" y="279.1" text-anchor="middle">−60</text>
<line class="tk" x1="423.3" y1="272.25" x2="423.3" y2="273.65"/>
<text x="423.3" y="279.1" text-anchor="middle">−40</text>
<line class="tk" x1="439.1" y1="272.25" x2="439.1" y2="273.65"/>
<text x="439.1" y="279.1" text-anchor="middle">−20</text>
<line class="tk" x1="455.0" y1="272.25" x2="455.0" y2="273.65"/>
<text x="455.0" y="279.1" text-anchor="middle">0</text>
<line class="tk" x1="470.9" y1="272.25" x2="470.9" y2="273.65"/>
<text x="470.9" y="279.1" text-anchor="middle">20</text>
<line class="tk" x1="486.7" y1="272.25" x2="486.7" y2="273.65"/>
<text x="486.7" y="279.1" text-anchor="middle">40</text>
<line class="tk" x1="391.5" y1="272.2" x2="390.1" y2="272.2"/>
<text x="389.3" y="273.8" text-anchor="end">0</text>
<line class="tk" x1="391.5" y1="260.1" x2="390.1" y2="260.1"/>
<text x="389.3" y="261.6" text-anchor="end">10</text>
<line class="tk" x1="391.5" y1="247.9" x2="390.1" y2="247.9"/>
<text x="389.3" y="249.4" text-anchor="end">20</text>
<line class="tk" x1="391.5" y1="235.8" x2="390.1" y2="235.8"/>
<text x="389.3" y="237.3" text-anchor="end">30</text>
<text x="443.1" y="285.2" text-anchor="middle">BAz deviation [°] from INGV</text>
<text x="391.9" y="225.1">(f)</text>
<text transform="translate(380.9,249.8) rotate(-90)" text-anchor="middle">Counts</text>
<line class="g" x1="49.1" y1="227.5" x2="49.1" y2="272.25"/>
<line class="g" x1="83.6" y1="227.5" x2="83.6" y2="272.25"/>
<line class="g" x1="118.0" y1="227.5" x2="118.0" y2="272.25"/>
<line class="g" x1="152.5" y1="227.5" x2="152.5" y2="272.25"/>
<line class="g" x1="187.0" y1="227.5" x2="187.0" y2="272.25"/>
<line class="g" x1="23.2" y1="261.1" x2="221.5" y2="261.1"/>
<line class="g" x1="23.2" y1="249.9" x2="221.5" y2="249.9"/>
<line class="g" x1="23.2" y1="238.7" x2="221.5" y2="238.7"/>
<clipPath id="cpd"><rect x="23.2" y="227.5" width="198.3" height="44.8"/></clipPath>
<g clip-path="url(#cpd)">
<rect x="126.66" y="271.80" width="4.31" height="0.45" fill="#404040"/>
<rect x="143.90" y="271.36" width="4.31" height="0.90" fill="#404040"/>
<rect x="156.83" y="266.66" width="4.31" height="5.59" fill="#404040"/>
<rect x="165.45" y="232.87" width="4.31" height="39.38" fill="#404040"/>
<rect x="169.77" y="262.85" width="4.31" height="9.40" fill="#404040"/>
<rect x="174.08" y="168.43" width="4.31" height="103.82" fill="#404040"/>
<rect x="187.01" y="268.45" width="4.31" height="3.80" fill="#404040"/>
<path d="M23.20,272.25 L23.20,272.25 L27.51,272.25 L27.51,272.25 L31.82,272.25 L31.82,272.25 L36.13,272.25 L36.13,272.25 L40.44,272.25 L40.44,272.25 L44.75,272.25 L44.75,272.25 L49.06,272.25 L49.06,272.25 L53.38,272.25 L53.38,272.25 L57.69,272.25 L57.69,272.25 L62.00,272.25 L62.00,272.25 L66.31,272.25 L66.31,272.25 L70.62,272.25 L70.62,272.25 L74.93,272.25 L74.93,272.25 L79.24,272.25 L79.24,272.03 L83.55,272.03 L83.55,272.03 L87.86,272.03 L87.86,272.03 L92.17,272.03 L92.17,270.91 L96.48,270.91 L96.48,270.91 L100.79,270.91 L100.79,269.56 L105.10,269.56 L105.10,270.46 L109.41,270.46 L109.42,270.46 L113.73,270.46 L113.73,268.67 L118.04,268.67 L118.04,267.33 L122.35,267.33 L122.35,267.33 L126.66,267.33 L126.66,265.99 L130.97,265.99 L130.97,265.99 L135.28,265.99 L135.28,262.40 L139.59,262.40 L139.59,258.38 L143.90,258.38 L143.90,250.77 L148.21,250.77 L148.21,244.50 L152.52,244.50 L152.52,244.95 L156.83,244.95 L156.83,262.40 L161.14,262.40 L161.14,260.62 L165.45,260.62 L165.45,268.22 L169.77,268.22 L169.77,268.67 L174.08,268.67 L174.08,268.67 L178.39,268.67 L178.39,270.91 L182.70,270.91 L182.70,271.36 L187.01,271.36 L187.01,270.91 L191.32,270.91 L191.32,271.36 L195.63,271.36 L195.63,271.80 L199.94,271.80 L199.94,271.80 L204.25,271.80 L204.25,271.80 L208.56,271.80 L208.56,272.25 L212.87,272.25 L212.87,272.25 L217.18,272.25 L217.18,272.25 L221.49,272.25 L221.49,272.25" fill="none" stroke="#2a2ae0" stroke-width="0.85" stroke-linejoin="miter"/>
<path d="M23.20,272.25 L23.20,271.13 L27.51,271.13 L27.51,272.12 L31.82,272.12 L31.82,271.80 L36.13,271.80 L36.13,269.56 L40.44,269.56 L40.44,271.36 L44.75,271.36 L44.75,269.56 L49.06,269.56 L49.06,271.13 L53.38,271.13 L53.38,267.51 L57.69,267.51 L57.69,269.56 L62.00,269.56 L62.00,270.46 L66.31,270.46 L66.31,268.89 L70.62,268.89 L70.62,270.46 L74.93,270.46 L74.93,271.36 L79.24,271.36 L79.24,269.56 L83.55,269.56 L83.55,269.56 L87.86,269.56 L87.86,269.12 L92.17,269.12 L92.17,269.12 L96.48,269.12 L96.48,267.77 L100.79,267.77 L100.79,267.77 L105.10,267.77 L105.10,265.54 L109.41,265.54 L109.42,266.88 L113.73,266.88 L113.73,265.54 L118.04,265.54 L118.04,265.54 L122.35,265.54 L122.35,267.33 L126.66,267.33 L126.66,264.19 L130.97,264.19 L130.97,265.54 L135.28,265.54 L135.28,261.51 L139.59,261.51 L139.59,263.30 L143.90,263.30 L143.90,264.19 L148.21,264.19 L148.21,266.43 L152.52,266.43 L152.52,263.93 L156.83,263.93 L156.83,267.33 L161.14,267.33 L161.14,268.67 L165.45,268.67 L165.45,267.77 L169.77,267.77 L169.77,266.88 L174.08,266.88 L174.08,269.56 L178.39,269.56 L178.39,271.36 L182.70,271.36 L182.70,270.01 L187.01,270.01 L187.01,271.36 L191.32,271.36 L191.32,270.68 L195.63,270.68 L195.63,270.68 L199.94,270.68 L199.94,270.46 L204.25,270.46 L204.25,270.01 L208.56,270.01 L208.56,269.56 L212.87,269.56 L212.87,271.80 L217.18,271.80 L217.18,271.36 L221.49,271.36 L221.49,272.25" fill="none" stroke="#ff2a2a" stroke-width="0.85" stroke-linejoin="miter"/>
</g>
<rect class="sp" x="23.2" y="227.5" width="198.3" height="44.8"/>
<line class="tk" x1="49.1" y1="272.25" x2="49.1" y2="273.65"/>
<text x="49.1" y="278.9" text-anchor="middle">160</text>
<line class="tk" x1="83.6" y1="272.25" x2="83.6" y2="273.65"/>
<text x="83.6" y="278.9" text-anchor="middle">180</text>
<line class="tk" x1="118.0" y1="272.25" x2="118.0" y2="273.65"/>
<text x="118.0" y="278.9" text-anchor="middle">200</text>
<line class="tk" x1="152.5" y1="272.25" x2="152.5" y2="273.65"/>
<text x="152.5" y="278.9" text-anchor="middle">220</text>
<line class="tk" x1="187.0" y1="272.25" x2="187.0" y2="273.65"/>
<text x="187.0" y="278.9" text-anchor="middle">240</text>
<line class="tk" x1="221.5" y1="272.25" x2="221.5" y2="273.65"/>
<text x="221.5" y="278.9" text-anchor="middle">260</text>
<line class="tk" x1="23.2" y1="272.2" x2="21.8" y2="272.2"/>
<text x="21.0" y="273.8" text-anchor="end">0</text>
<line class="tk" x1="23.2" y1="261.1" x2="21.8" y2="261.1"/>
<text x="21.0" y="262.6" text-anchor="end">25</text>
<line class="tk" x1="23.2" y1="249.9" x2="21.8" y2="249.9"/>
<text x="21.0" y="251.4" text-anchor="end">50</text>
<line class="tk" x1="23.2" y1="238.7" x2="21.8" y2="238.7"/>
<text x="21.0" y="240.2" text-anchor="end">75</text>
<line class="tk" x1="23.2" y1="227.5" x2="21.8" y2="227.5"/>
<text x="21.0" y="229.0" text-anchor="end">100</text>
<text x="122.3" y="284.8" text-anchor="middle">BAz [°] distribution</text>
<text x="23.4" y="224.9">(d)</text>
<text transform="translate(8.8,249.8) rotate(-90)" text-anchor="middle">no. of events</text>
<text x="179.4" y="237.4" style="font-size:4.1px;stroke-width:0.1px">max 232</text>
<rect x="24.3" y="229.8" width="30.4" height="21.8" rx="0.8" fill="#fff" fill-opacity="0.8" stroke="#ccc" stroke-width="0.4"/>
<rect x="27.2" y="232.3" width="9.8" height="3.1" fill="#404040"/>
<rect x="27.6" y="239.6" width="9.0" height="2.8" fill="none" stroke="#2a2ae0" stroke-width="0.8"/>
<rect x="27.6" y="246.6" width="9.0" height="2.8" fill="none" stroke="#ff2a2a" stroke-width="0.8"/>
<text x="41" y="235.4">INGV</text>
<text x="41" y="242.5">HHZ</text>
<text x="41" y="249.5">6C</text>
</svg></body></html>
